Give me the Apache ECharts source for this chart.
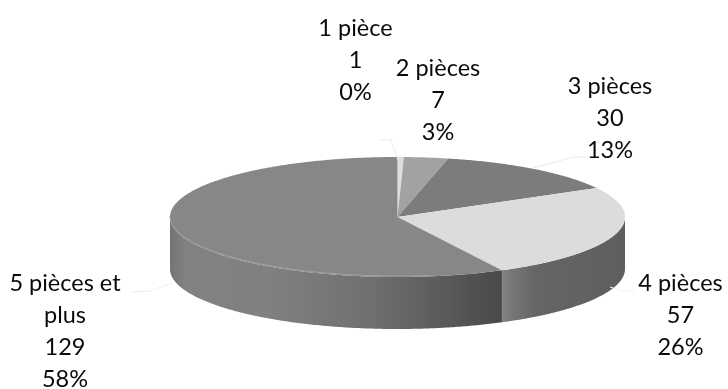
<!DOCTYPE html>
<html><head><meta charset="utf-8">
<style>html,body{margin:0;padding:0;background:#fff}#c{width:728px;height:389px}</style>
<script src="https://cdn.jsdelivr.net/npm/echarts@6/dist/echarts.min.js"></script>
</head><body><div id="c"></div>
<script>
const categories = ['1 pièce','2 pièces','3 pièces','4 pièces','5 pièces et plus'];
const values = [1,7,30,57,129];
const percentLabels = ['0%','3%','13%','26%','58%'];
const labelLines = [['1 pièce'],['2 pièces'],['3 pièces'],['4 pièces'],['5 pièces et','plus']];

const topColors = ['#dedede','#a2a2a2','#7c7c7c','#dcdcdc','#878787'];
const labelAnchor = [[355.5,28],[438,68],[610,86],[680.5,283],[65,283]];
const leaders = [
  {pts:[[380,140],[391,140],[398,160]],color:'#ececec'},
  {pts:[[533,168],[573,157],[590,157]],color:'#ececec'},
  {pts:[[610,287],[622,291],[636,291]],color:'#f2f2f2'},
  {pts:[[130,292],[150,291],[172,283]],color:'#eeeeee'}
];
const cx=397.5, cy=217, rx=227.5, ry=60, depth=52, lineGap=32;
const total = values.reduce((a,b)=>a+b,0);
const starts=[]; values.reduce((a,v,i)=>{starts[i]=a;return a+v;},0);
const angle = v => v/total*Math.PI*2;
function arcPts(api,a0,a1,dy){
  const pts=[], n=Math.max(2,Math.ceil((a1-a0)/0.01));
  for(let i=0;i<=n;i++){const a=a0+(a1-a0)*i/n;
    pts.push(api.coord([cx+rx*Math.sin(a),cy-ry*Math.cos(a)+dy]));}
  return pts;
}
function sideFill(i){
  if(i===3) return new echarts.graphic.LinearGradient(500,0,625,0,[
    {offset:0,color:'#868686'},{offset:.1,color:'#767676'},{offset:.28,color:'#666666'},{offset:1,color:'#5e5e5e'}],true);
  return new echarts.graphic.LinearGradient(170,0,502,0,[
    {offset:0,color:'#747474'},{offset:.05,color:'#828282'},{offset:.3,color:'#808080'},
    {offset:.6,color:'#707070'},{offset:.85,color:'#585858'},{offset:1,color:'#484848'}],true);
}
function renderSlice(params,api){
  const i=params.dataIndex, a0=angle(starts[i]), a1=angle(starts[i]+values[i]);
  const children=[];
  const s0=Math.max(a0,Math.PI/2), s1=Math.min(a1,Math.PI*1.5);
  if(s1>s0){
    const up=arcPts(api,s0,s1,0), down=arcPts(api,s0,s1,depth).reverse();
    children.push({type:'polygon',shape:{points:up.concat(down)},style:{fill:sideFill(i)}});
  }
  const c=api.coord([cx,cy]);
  children.push({type:'polygon',shape:{points:[c].concat(arcPts(api,a0,a1,0))},style:{fill:topColors[i]}});
  if(i===4){
    children.push({type:'polyline',shape:{points:arcPts(api,Math.max(a0,Math.PI*.95),Math.PI*1.5,-1)},
      style:{stroke:'#a2a2a2',lineWidth:1,fill:null}});
  }
  return {type:'group',children};
}
function renderLabel(params,api){
  const i=params.dataIndex;
  const lines=labelLines[i].concat([String(values[i]),percentLabels[i]]);
  const p=api.coord(labelAnchor[i]);
  return {type:'group',children:lines.map((t,k)=>({type:'text',
    style:{text:t,x:p[0],y:p[1]+k*lineGap,align:'center',verticalAlign:'middle',
      font:'23.5px Lato, "Open Sans", sans-serif',fill:'#0a0a0a'}}))};
}
function renderLeader(params,api){
  const l=leaders[params.dataIndex];
  return {type:'polyline',shape:{points:l.pts.map(q=>api.coord(q))},style:{stroke:l.color,lineWidth:1,fill:null}};
}
const chart=echarts.init(document.getElementById('c'),null,{renderer:'canvas'});
chart.setOption({
  animation:false,
  backgroundColor:'#fff',
  grid:{left:0,right:0,top:0,bottom:0},
  xAxis:{type:'value',min:0,max:728,show:false},
  yAxis:{type:'value',min:0,max:389,inverse:true,show:false},
  series:[
    {type:'custom',name:'slices',renderItem:renderSlice,clip:false,silent:true,
      data:categories.map((n,i)=>({name:n,value:[i,values[i]]}))},
    {type:'custom',name:'leaders',renderItem:renderLeader,clip:false,silent:true,z:3,
      data:leaders.map((_,i)=>[i,0])},
    {type:'custom',name:'labels',renderItem:renderLabel,clip:false,silent:true,z:4,
      data:categories.map((n,i)=>({name:n,value:[i,values[i]]}))}
  ]
});
</script></body></html>
